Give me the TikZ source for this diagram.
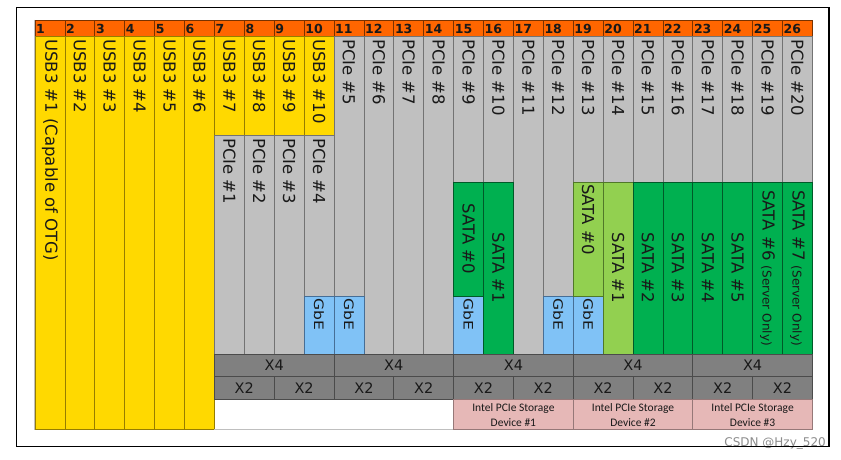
\documentclass[tikz,border=0pt]{standalone}
\usepackage{fontspec}
\setmainfont{DejaVu Sans}
\newfontfamily\calib{Carlito}
\definecolor{orng}{RGB}{255,102,0}
\definecolor{orngln}{RGB}{120,50,0}
\definecolor{ylw}{RGB}{255,217,0}
\definecolor{ylwln}{RGB}{150,125,0}
\definecolor{gry}{RGB}{192,192,192}
\definecolor{gryln}{RGB}{115,115,115}
\definecolor{grn}{RGB}{0,176,80}
\definecolor{grnln}{RGB}{0,90,40}
\definecolor{lgrn}{RGB}{146,208,80}
\definecolor{lgrnln}{RGB}{80,120,40}
\definecolor{blu}{RGB}{128,194,246}
\definecolor{bluln}{RGB}{70,110,150}
\definecolor{dgry}{RGB}{128,128,128}
\definecolor{dgryln}{RGB}{75,75,75}
\definecolor{pnk}{RGB}{230,184,183}
\definecolor{pnkln}{RGB}{150,120,120}
\definecolor{txt}{RGB}{25,25,25}
\newcommand\cellbox[4]{%
  \pgfmathsetmacro\xl{35+(#1-1)*29.9}%
  \pgfmathsetmacro\xr{35+#1*29.9}%
  \filldraw[#4] (\xl,#2) rectangle (\xr,#3);}
\newcommand\colx[1]{35+(#1-0.5)*29.9}
\begin{document}
\begin{tikzpicture}[x=1pt,y=-1pt,
  ybox/.style={fill=ylw,draw=ylwln,line width=0.7},
  gbox/.style={fill=gry,draw=gryln,line width=0.7},
  grbox/.style={fill=grn,draw=grnln,line width=0.7},
  lgbox/.style={fill=lgrn,draw=lgrnln,line width=0.7},
  bbox/.style={fill=blu,draw=bluln,line width=0.7},
  obox/.style={fill=orng,draw=orngln,line width=0.7},
  dbox/.style={fill=dgry,draw=dgryln,line width=0.7},
  pbox/.style={fill=pnk,draw=pnkln,line width=0.7},
  hdr/.style={font=\fontsize{12.5}{14}\selectfont\bfseries,text=txt,inner sep=1,anchor=west},
  vlab/.style={rotate=-90,font=\fontsize{16.5}{19}\selectfont,text=txt,inner sep=1},
  glab/.style={rotate=-90,font=\fontsize{13}{15}\selectfont,text=txt,inner sep=1,anchor=west},
  xlab/.style={font=\fontsize{14.5}{16}\selectfont,text=txt,inner sep=0},
  plab/.style={font=\calib\fontsize{11.5}{14.5}\selectfont,text=txt,align=center,inner sep=0}]
\useasboundingbox (0,0) rectangle (841,460);
\fill[white] (0,0) rectangle (841,460);
% light shadow of table
\draw[black!25,line width=1] (34.3,20) -- (34.3,429.8) -- (813,429.8);
% header
\foreach \i in {1,...,26}{
  \cellbox{\i}{20}{36.7}{obox}
  \node[hdr] (h\i) at ({35+(\i-1)*29.9},28.6) {\i};
}
% yellow columns
\foreach \i in {1,...,6}{\cellbox{\i}{36.7}{429}{ybox}}
\foreach \i in {7,...,10}{\cellbox{\i}{36.7}{135}{ybox}}
% grey segments
\foreach \i in {7,8,9}{\cellbox{\i}{135}{354}{gbox}}
\cellbox{10}{135}{296}{gbox}
\cellbox{11}{36.7}{296}{gbox}
\foreach \i in {12,13,14,17}{\cellbox{\i}{36.7}{354}{gbox}}
\cellbox{18}{36.7}{296}{gbox}
\foreach \i in {15,16,19,20,21,22,23,24,25,26}{\cellbox{\i}{36.7}{182}{gbox}}
% GbE
\foreach \i in {10,11,15,18,19}{\cellbox{\i}{296}{354}{bbox}}
% SATA
\cellbox{15}{182}{296}{grbox}
\cellbox{16}{182}{354}{grbox}
\cellbox{19}{182}{296}{lgbox}
\cellbox{20}{182}{354}{lgbox}
\foreach \i in {21,...,26}{\cellbox{\i}{182}{354}{grbox}}
% X4 / X2 rows
\foreach \g in {0,...,4}{
  \pgfmathsetmacro\xa{35+(6+4*\g)*29.9}
  \pgfmathsetmacro\xb{35+(10+4*\g)*29.9}
  \filldraw[dbox] (\xa,354) rectangle (\xb,376.7);
  \node[xlab] (xf\g) at ({(\xa+\xb)/2},365.5) {X4};
}
\foreach \g in {0,...,9}{
  \pgfmathsetmacro\xa{35+(6+2*\g)*29.9}
  \pgfmathsetmacro\xb{35+(8+2*\g)*29.9}
  \filldraw[dbox] (\xa,376.7) rectangle (\xb,399);
  \node[xlab] (xt\g) at ({(\xa+\xb)/2},388) {X2};
}
% storage devices
\draw[black!25,line width=0.8] ({35+6*29.9},429) -- ({35+14*29.9},429);
\foreach \g/\n in {2/1,3/2,4/3}{
  \pgfmathsetmacro\xa{35+(6+4*\g)*29.9}
  \pgfmathsetmacro\xb{35+(10+4*\g)*29.9}
  \filldraw[pbox] (\xa,399) rectangle (\xb,429);
  \node[plab] (sd\n) at ({(\xa+\xb)/2},415) {Intel PCIe Storage\\Device \#\n};
}
% USB labels
\node[vlab,anchor=west] (u1) at ({\colx{1}},38) {USB3 \#1 (Capable of OTG)};
\foreach \i in {2,...,10}{
  \node[vlab,anchor=west] (u\i) at ({\colx{\i}},38) {USB3 \#\i};
}
% PCIe labels
\foreach \i in {1,...,4}{
  \node[vlab,anchor=west] (p\i) at ({\colx{\i+6}},137) {PCIe \#\i};
}
\foreach \i in {5,...,20}{
  \node[vlab,anchor=west] (p\i) at ({\colx{\i+6}},38) {PCIe \#\i};
}
% GbE labels
\foreach \i in {10,11,15,18,19}{
  \node[glab] (g\i) at ({\colx{\i}},297.5) {\scalebox{1.2}[1]{GbE}};
}
% SATA labels
\node[vlab] (sa0) at ({\colx{15}},239) {SATA \#0};
\node[vlab] (sa1) at ({\colx{16}},268) {SATA \#1};
\node[vlab,anchor=west] (sb0) at ({\colx{19}},183) {SATA \#0};
\foreach \i in {1,...,5}{
  \node[vlab] (sb\i) at ({\colx{\i+19}},268) {SATA \#\i};
}
\node[vlab] (sb6) at ({\colx{25}},268) {SATA \#6 {\fontsize{12}{14}\selectfont (Server Only)}};
\node[vlab] (sb7) at ({\colx{26}},268) {SATA \#7 {\fontsize{12}{14}\selectfont (Server Only)}};
% watermark
\node[anchor=base east,text=black!45,font=\fontsize{12}{12}\selectfont,inner sep=0] (wm) at (826,446) {CSDN @Hzy\_520};
% outer frame
\draw[line width=1.5] (16.7,7.3) rectangle (829,446.7);
\end{tikzpicture}
\end{document}
